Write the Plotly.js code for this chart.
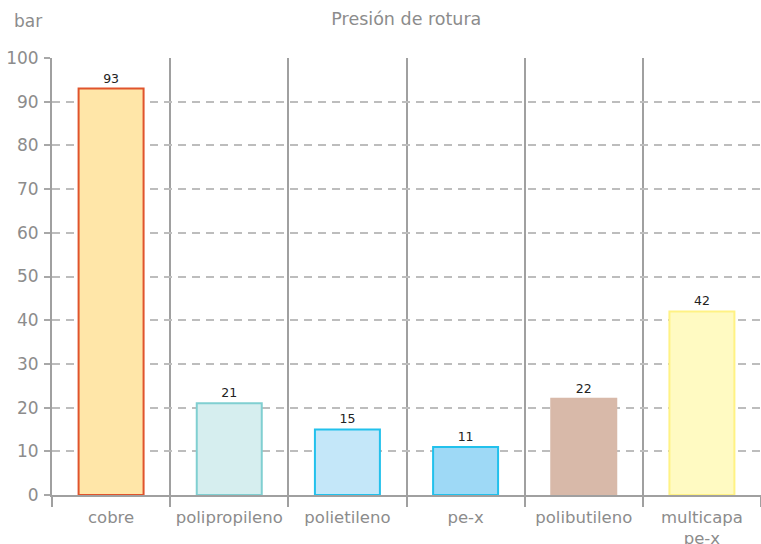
<!DOCTYPE html>
<html><head><meta charset="utf-8">
<script src="https://cdn.plot.ly/plotly-3.0.1.min.js"></script>
<style>html,body{margin:0;padding:0;background:#fff}#c{width:761px;height:544px}</style>
</head><body><div id="c"></div>
<script>
const categories = ["cobre", "polipropileno", "polietileno", "pe-x", "polibutileno", "multicapa<br>pe-x"];
const values = [93, 21, 15, 11, 22, 42];
const fillColors = ["#FFE6A8", "#D6EEEF", "#C4E7F9", "#9ED9F6", "#D8B9A9", "#FFFAC2"];
const lineColors = ["#E0542C", "#80CFD1", "#22C1EC", "#22C1EC", "#D8B9A9", "#FFF284"];
const yTicks = [0, 10, 20, 30, 40, 50, 60, 70, 80, 90, 100];

const font = "'DejaVu Sans', Verdana, sans-serif";
const gray = "#8c8c8c";

Plotly.newPlot("c", [{
  type: "bar",
  x: categories,
  y: values,
  width: 0.55,
  marker: {color: fillColors, line: {color: lineColors, width: 2}},
  text: values.map(String),
  textposition: "outside",
  textfont: {family: font, size: 12.5, color: "#222"},
  cliponaxis: false,
  hoverinfo: "none"
}], {
  width: 761, height: 544,
  margin: {l: 52, r: 0, t: 58, b: 49},
  paper_bgcolor: "#fff", plot_bgcolor: "#fff",
  showlegend: false,
  title: {text: "Presión de rotura", x: 0.534, xanchor: "center", y: 0.966, yanchor: "middle",
          font: {family: font, size: 17.5, color: gray}},
  xaxis: {
    type: "category", range: [-0.5, 5.5], tickson: "boundaries",
    showgrid: true, gridcolor: "#a0a0a0", gridwidth: 2,
    ticks: "outside", ticklen: 10, tickwidth: 2, tickcolor: "#a0a0a0",
    showline: true, linecolor: "#a0a0a0", linewidth: 2,
    tickfont: {family: font, size: 16.5, color: gray},
    ticklabelstandoff: 6,
    fixedrange: true
  },
  yaxis: {
    range: [0, 100], tickvals: yTicks, ticktext: yTicks.map(String),
    showgrid: true, gridcolor: "#bdbdbd", gridwidth: 2, griddash: "8px,6px",
    zeroline: false,
    ticks: "outside", ticklen: 6, tickwidth: 2, tickcolor: "#a8a8a8",
    showline: true, linecolor: "#a0a0a0", linewidth: 2,
    tickfont: {family: font, size: 17, color: gray},
    ticklabelstandoff: 2,
    fixedrange: true
  },
  annotations: [{
    text: "bar", xref: "paper", yref: "paper", x: -0.057, y: 1.085, xanchor: "left", yanchor: "middle",
    showarrow: false, font: {family: font, size: 17, color: gray}
  }]
}, {displayModeBar: false, staticPlot: true});
</script></body></html>
